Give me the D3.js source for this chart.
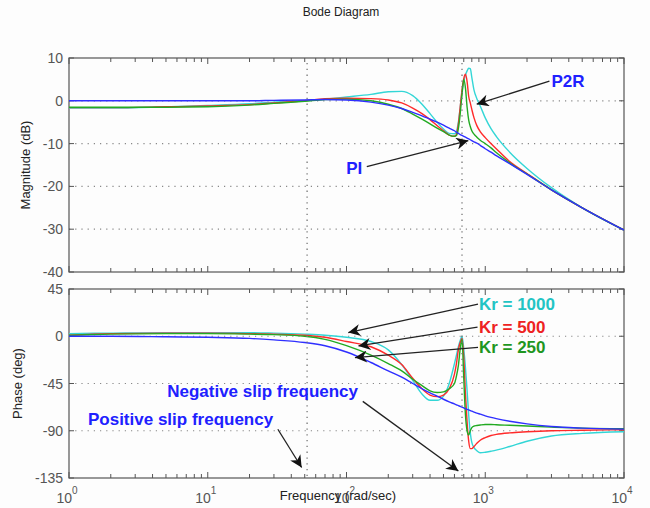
<!DOCTYPE html>
<html>
<head>
<meta charset="utf-8">
<script src="https://cdn.jsdelivr.net/npm/d3@7"></script>
<style>
body{margin:0;background:#fff;}
text{font-family:"Liberation Sans",Arial,sans-serif;}
</style>
</head>
<body>
<div id="container"></div>
<script>
let w=650;
let h=508;

// frequencies in rad/sec
let freq=[1,2,5,10,20,30,50,70,100,150,200,250,300,350,400,450,500,550,600,620,640,660,680,700,720,740,760,780,800,830,870,920,1000,1100,1200,1500,2000,3000,5000,10000];

// magnitude (dB)
let magPI  =[0,0,0,0,0,0.1,0.2,0.3,0.2,-0.3,-1.0,-1.8,-2.7,-3.5,-4.3,-5.0,-5.7,-6.4,-7.0,-7.3,-7.6,-7.9,-8.1,-8.3,-8.5,-8.7,-8.9,-9.1,-9.3,-9.6,-9.9,-10.4,-11.2,-12.0,-12.8,-14.7,-17.2,-20.8,-25.0,-30.2];
let mag250 =[-1.5,-1.5,-1.5,-1.4,-1.0,-0.6,-0.1,0.3,0.4,0,-0.8,-1.8,-3.1,-4.3,-5.4,-6.4,-7.2,-8.0,-8.3,-8.1,-6.5,-3.0,1.5,5.0,3.0,-1.5,-4.5,-6.0,-7.0,-7.8,-8.5,-9.2,-10.0,-11.0,-12.1,-14.5,-17.1,-20.8,-25.0,-30.2];
let mag500 =[-1.6,-1.6,-1.4,-1.2,-0.9,-0.5,0,0.5,0.6,0.5,0.2,-0.5,-1.7,-3.0,-4.4,-5.8,-7.0,-8.0,-8.3,-7.8,-5.5,-1.5,2.5,5.2,6.2,4.5,1.0,-0.5,-2.0,-4.0,-5.8,-7.2,-8.6,-10.0,-11.2,-14.2,-17.0,-20.8,-25.0,-30.2];
let mag1000=[-1.7,-1.7,-1.4,-1.1,-0.7,-0.3,0,0.4,0.9,1.5,2.1,2.2,1.2,-0.8,-3.0,-5.0,-6.6,-7.6,-7.7,-7.2,-5.0,-1.5,2.0,4.5,6.0,7.0,7.6,7.5,5.5,2.5,0.5,-1.2,-4.0,-6.5,-8.3,-12.0,-15.8,-20.3,-25.0,-30.2];

// phase (deg)
let phPI  =[0,0,-0.5,-1,-2,-3.5,-6,-9,-15,-25,-33,-39,-45,-50,-54,-57,-60,-62.5,-64.5,-65.3,-66,-66.8,-67.5,-68.2,-69,-69.6,-70.2,-70.8,-71.4,-72.2,-73.2,-74.2,-75.8,-77.3,-78.5,-81,-83.5,-86,-87.5,-88.5];
let ph250 =[1,2,2.5,2.5,2,1.5,0,-3,-9,-18,-26,-33,-41,-47,-52,-53.5,-53,-50,-45,-38,-28,-12,-3,-40,-75,-90,-94,-90,-87,-85.5,-85,-84.5,-84,-84,-84.3,-84.8,-85.5,-86.5,-87.5,-88];
let ph500 =[1,2.5,3,3,2.5,2,1,-1,-5,-10,-18,-27,-40,-50,-56,-57.5,-56,-50,-36,-26,-13,-6,-2,-20,-55,-82,-100,-107,-107,-105,-102,-99,-96.5,-94.5,-93.5,-92,-91,-90,-89.5,-89];
let ph1000=[2.5,3,3.5,3.5,3.5,3,2,1,-1,-5,-13,-27,-42,-55,-61,-61,-57,-45,-26,-18,-10,-4,0,-12,-30,-52,-75,-92,-101,-106,-109,-111,-110.5,-109.5,-108.5,-105,-100,-95,-92.5,-91];

let seriesColors=["#33d6d6","#ff2a2a","#22aa22","#2f2fff"];
let magSeries=[mag1000,mag500,mag250,magPI];
let phSeries=[ph1000,ph500,ph250,phPI];

let magTicks=[10,0,-10,-20,-30,-40];
let phTicks=[45,0,-45,-90,-135];
let decades=[0,1,2,3,4];
let slipFreqs=[52,680];

// annotations in data units: text pos, arrow start, arrow tip
let magNotes=[
  {label:"P2R",color:"#2020ff",tx:3000,ty:4.6,x1:2900,y1:4.6,x2:868,y2:-0.8,anchor:"start"},
  {label:"PI",color:"#2020ff",tx:130,ty:-15.6,x1:140,y1:-15.4,x2:755,y2:-9.3,anchor:"end"}
];
let phNotes=[
  {label:"Kr = 1000",color:"#22c4c4",tx:900,ty:30.5,x1:887,y1:30.5,x2:103,y2:3.5,anchor:"start"},
  {label:"Kr = 500",color:"#ee2222",tx:900,ty:8.6,x1:880,y1:8.6,x2:122,y2:-9.2,anchor:"start"},
  {label:"Kr = 250",color:"#1f961f",tx:900,ty:-10.5,x1:887,y1:-10.5,x2:115,y2:-20.3,anchor:"start"},
  {label:"Negative slip frequency",color:"#2020ff",tx:5.1,ty:-52.4,x1:131,y1:-62,x2:640,y2:-128.3,anchor:"start"},
  {label:"Positive slip frequency",color:"#2020ff",tx:1.37,ty:-79,x1:32,y1:-88.6,x2:47.5,y2:-125,anchor:"start"}
];

let left=69,right=624;
let x=d3.scaleLog().domain([1,10000]).range([left,right]);
let yMag=d3.scaleLinear().domain([-40,10]).range([272,58]);
let yPh=d3.scaleLinear().domain([-135,45]).range([478,289]);

let viz=d3.select("#container").append("svg")
  .attr("width",w).attr("height",h);
viz.append("rect").attr("width",w).attr("height",h).attr("fill","#fdfdfd");

let defs=viz.append("defs");
defs.append("marker").attr("id","head")
  .attr("viewBox","0 0 10 10").attr("refX",10).attr("refY",5)
  .attr("markerWidth",16).attr("markerHeight",12)
  .attr("markerUnits","userSpaceOnUse")
  .attr("orient","auto")
  .append("path").attr("d","M0,0 L10,5 L0,10 L3,5 Z").attr("fill","#111");

function drawPanel(yScale,ticks,series,clipId,label,labelX){
  let top=yScale.range()[1],bottom=yScale.range()[0];
  defs.append("clipPath").attr("id",clipId)
    .append("rect").attr("x",left).attr("y",top).attr("width",right-left).attr("height",bottom-top);
  let g=viz.append("g");
  // horizontal grid
  g.selectAll(".grid").data(ticks.slice(1,-1)).enter()
    .append("line")
    .attr("x1",left).attr("x2",right)
    .attr("y1",d=>yScale(d)).attr("y2",d=>yScale(d))
    .attr("stroke","#888").attr("stroke-width",1.2)
    .attr("stroke-dasharray","1.2,5");
  // box
  g.append("rect").attr("x",left).attr("y",top).attr("width",right-left).attr("height",bottom-top)
    .attr("fill","none").attr("stroke","#555").attr("stroke-width",1.2);
  // x ticks (log)
  let minor=[];
  decades.forEach(function(d){
    for(let k=1;k<10;k++){
      let v=k*Math.pow(10,d);
      if(v<=10000) minor.push({v:v,major:k==1});
    }
  });
  [top,bottom].forEach(function(yy,i){
    g.selectAll(".xt"+i).data(minor).enter()
      .append("line")
      .attr("x1",d=>x(d.v)).attr("x2",d=>x(d.v))
      .attr("y1",yy).attr("y2",d=>yy+(i==0?1:-1)*(d.major?6:4))
      .attr("stroke","#555").attr("stroke-width",1);
  });
  // y ticks
  [left,right].forEach(function(xx,i){
    g.selectAll(".yt"+i).data(ticks).enter()
      .append("line")
      .attr("x1",xx).attr("x2",xx+(i==0?5:-5))
      .attr("y1",d=>yScale(d)).attr("y2",d=>yScale(d))
      .attr("stroke","#555");
  });
  g.selectAll(".ylab").data(ticks).enter()
    .append("text")
    .attr("x",left-6).attr("y",d=>yScale(d)+5)
    .attr("text-anchor","end").attr("font-size",14).attr("fill","#555")
    .text(d=>d);
  viz.append("text")
    .attr("transform","translate("+labelX+","+((top+bottom)/2)+") rotate(-90)")
    .attr("text-anchor","middle").attr("font-size",13).attr("fill","#222")
    .text(label);
  // curves
  let line=d3.line().x((d,i)=>x(freq[i])).y(d=>yScale(d)).curve(d3.curveMonotoneX);
  viz.append("g").attr("clip-path","url(#"+clipId+")")
    .selectAll("path").data(series).enter()
    .append("path")
    .attr("d",line)
    .attr("fill","none")
    .attr("stroke",(d,i)=>seriesColors[i])
    .attr("stroke-width",1.4);
}

drawPanel(yMag,magTicks,magSeries,"clipMag","Magnitude (dB)",30);
drawPanel(yPh,phTicks,phSeries,"clipPh","Phase (deg)",22);

// slip frequency markers
viz.selectAll(".slip").data(slipFreqs).enter()
  .append("line")
  .attr("x1",d=>x(d)).attr("x2",d=>x(d))
  .attr("y1",63).attr("y2",478)
  .attr("stroke","#777").attr("stroke-width",1.3)
  .attr("stroke-dasharray","1.3,4.5");

// x tick labels
let xl=viz.selectAll(".xlab").data(decades).enter()
  .append("text")
  .attr("x",d=>x(Math.pow(10,d))-2).attr("y",503)
  .attr("text-anchor","middle").attr("font-size",14).attr("fill","#555");
xl.append("tspan").text("10");
xl.append("tspan").attr("dy",-9).attr("font-size",10).text(d=>d);

viz.append("text").attr("x",338).attr("y",500)
  .attr("text-anchor","middle").attr("font-size",13).attr("fill","#222")
  .text("Frequency (rad/sec)");
viz.append("text").attr("x",341).attr("y",16)
  .attr("text-anchor","middle").attr("font-size",12).attr("fill","#222")
  .text("Bode Diagram");

function drawNotes(notes,yScale){
  let g=viz.append("g");
  g.selectAll("line").data(notes).enter()
    .append("line")
    .attr("x1",d=>x(d.x1)).attr("y1",d=>yScale(d.y1))
    .attr("x2",d=>x(d.x2)).attr("y2",d=>yScale(d.y2))
    .attr("stroke","#222").attr("stroke-width",1.3)
    .attr("marker-end","url(#head)");
  g.selectAll("text").data(notes).enter()
    .append("text")
    .attr("x",d=>x(d.tx)).attr("y",d=>yScale(d.ty)+6)
    .attr("text-anchor",d=>d.anchor)
    .attr("font-size",17).attr("font-weight","bold")
    .attr("fill",d=>d.color)
    .text(d=>d.label);
}
drawNotes(magNotes,yMag);
drawNotes(phNotes,yPh);
</script>
</body>
</html>
